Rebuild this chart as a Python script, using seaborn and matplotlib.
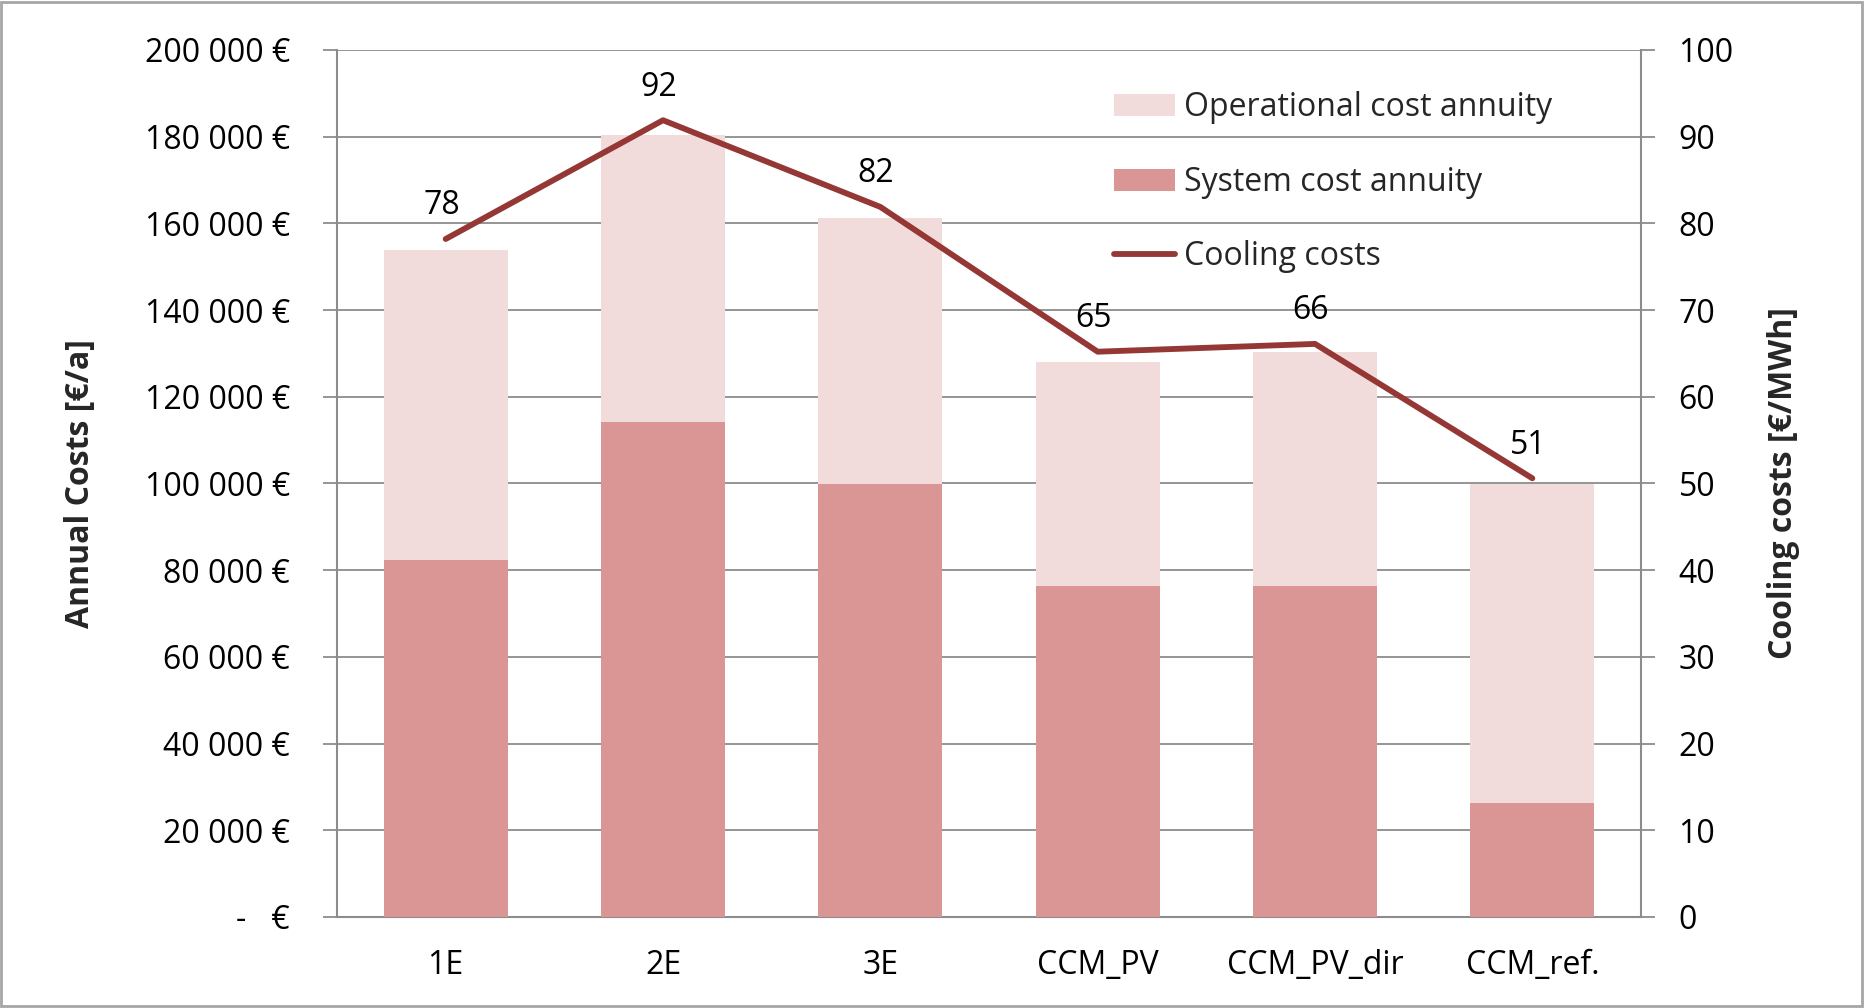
import numpy as np
import matplotlib
matplotlib.use("Agg")
import matplotlib.pyplot as plt
import seaborn as sns
from matplotlib.patches import Patch, Rectangle
from matplotlib.lines import Line2D
from matplotlib.ticker import FuncFormatter, MultipleLocator

sns.set_theme(style="white")
plt.rcParams["font.family"] = ["Open Sans", "DejaVu Sans"]

categories = ["1E", "2E", "3E", "CCM_PV", "CCM_PV_dir", "CCM_ref."]
system_cost = [82300, 114100, 99900, 76300, 76300, 26300]
operational_cost = [71600, 66400, 61400, 51800, 54000, 73600]
cooling_costs = [78.2, 91.9, 81.9, 65.2, 66.1, 50.6]
cooling_labels = ["78", "92", "82", "65", "66", "51"]

C_OPER = "#F2DCDB"
C_SYS = "#D99694"
C_LINE = "#953735"
C_GRID = "#8C8C8C"
FS = 23

total_cost = [s + o for s, o in zip(system_cost, operational_cost)]

fig = plt.figure(figsize=(18.65, 10.08), dpi=100)
ax = fig.add_axes([0.1807, 0.0903, 0.8799 - 0.1807, 0.9504 - 0.0903])

sns.barplot(x=categories, y=total_cost, color=C_OPER, width=0.57, ax=ax,
            saturation=1, edgecolor="none", zorder=2)
sns.barplot(x=categories, y=system_cost, color=C_SYS, width=0.57, ax=ax,
            saturation=1, edgecolor="none", zorder=3)

ax.set_ylim(0, 200000)
ax.set_xlim(-0.5, len(categories) - 0.5)
ax.yaxis.set_major_locator(MultipleLocator(20000))


def euro_fmt(v, pos):
    if v == 0:
        return "-   €"
    return f"{v:,.0f}".replace(",", " ") + " €"


ax.yaxis.set_major_formatter(FuncFormatter(euro_fmt))
ax.grid(axis="y", color=C_GRID, linewidth=1.3, zorder=0)
ax.set_axisbelow(True)
for side in ["left", "bottom"]:
    ax.spines[side].set_color(C_GRID)
    ax.spines[side].set_linewidth(1.5)
ax.spines["top"].set_visible(False)
ax.spines["right"].set_visible(False)
ax.tick_params(axis="y", length=10, width=1.3, color=C_GRID, pad=24,
               labelsize=FS, labelcolor="black", left=True)
ax.tick_params(axis="x", length=0, pad=23, labelsize=FS, labelcolor="black")
ax.set_xlabel("")
ax.set_ylabel("Annual Costs [€/a]", fontsize=FS, fontweight="bold", labelpad=34)

ax2 = ax.twinx()
sns.lineplot(x=np.arange(len(categories)), y=cooling_costs, ax=ax2,
             color=C_LINE, linewidth=4.2, zorder=5)
ax2.set_ylim(0, 100)
ax2.yaxis.set_major_locator(MultipleLocator(10))
ax2.spines["right"].set_color(C_GRID)
ax2.spines["right"].set_linewidth(1.5)
for side in ["top", "left", "bottom"]:
    ax2.spines[side].set_visible(False)
ax2.tick_params(axis="y", length=10, width=1.3, color=C_GRID, pad=17,
                labelsize=FS, labelcolor="black", right=True)
ax2.set_ylabel("Cooling costs [€/MWh]", fontsize=FS, fontweight="bold", labelpad=24)
ax2.grid(False)

for i, (v, lab) in enumerate(zip(cooling_costs, cooling_labels)):
    ax2.annotate(lab, (i, v), xytext=(-3, 12), textcoords="offset points",
                 ha="center", va="bottom", fontsize=FS, color="black")

handles = [
    Patch(facecolor=C_OPER, edgecolor="none", label="Operational cost annuity"),
    Patch(facecolor=C_SYS, edgecolor="none", label="System cost annuity"),
    Line2D([0], [0], color=C_LINE, linewidth=4.2, solid_capstyle="round",
           label="Cooling costs"),
]
ax2.legend(handles=handles, loc="upper left", bbox_to_anchor=(0.586, 0.967),
           frameon=False, fontsize=FS, labelspacing=1.3, handlelength=1.9,
           handleheight=0.7, handletextpad=0.3, borderaxespad=0)

fig.patches.append(Rectangle((0.0005, 0.002), 0.998, 0.996, transform=fig.transFigure,
                             fill=False, edgecolor="#A6A6A6", linewidth=2))

fig.savefig("out.png", dpi=100)
